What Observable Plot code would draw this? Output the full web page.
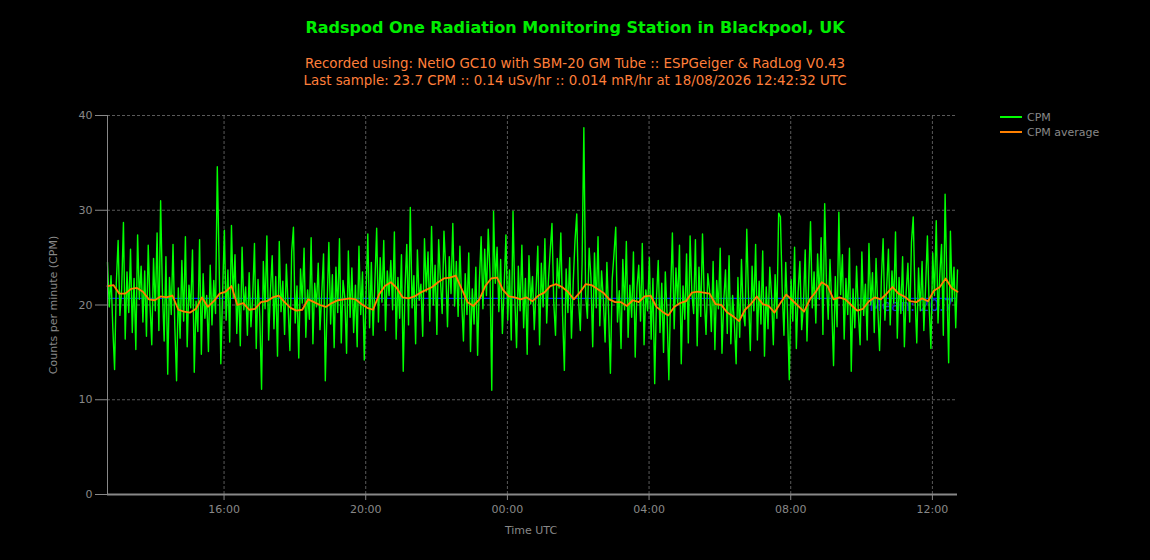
<!DOCTYPE html>
<html>
<head>
<meta charset="utf-8">
<script src="https://cdn.jsdelivr.net/npm/d3@7"></script>
<script src="https://cdn.jsdelivr.net/npm/@observablehq/plot@0.6"></script>
<style>
  html, body { margin: 0; padding: 0; background: #000; }
  #wrap { position: relative; width: 1150px; height: 560px; background: #000; overflow: hidden; font-family: "DejaVu Sans", sans-serif; }
  #title { position: absolute; left: 0; width: 1150px; top: 18px; text-align: center; color: #00ee00; font-weight: bold; font-size: 16px; }
  .sub { position: absolute; left: 0; width: 1150px; text-align: center; color: #ff7f3a; font-size: 13.4px; }
  #legend { position: absolute; left: 1000px; top: 110px; color: #888; font-size: 11px; }
  .li { position: relative; height: 15px; line-height: 15px; }
  .sw { position: absolute; left: 0; top: 6px; width: 22px; height: 2px; }
  .lt { position: absolute; left: 27px; top: 0; white-space: nowrap; }
  #chart { position: absolute; left: 0; top: 0; }
</style>
</head>
<body>
<div id="wrap">
  <div id="chart"></div>
  <div id="title">Radspod One Radiation Monitoring Station in Blackpool, UK</div>
  <div class="sub" style="top:56px">Recorded using: NetIO GC10 with SBM-20 GM Tube :: ESPGeiger &amp; RadLog V0.43</div>
  <div class="sub" style="top:73px">Last sample: 23.7 CPM :: 0.14 uSv/hr :: 0.014 mR/hr at 18/08/2026 12:42:32 UTC</div>
  <div id="legend">
    <div class="li"><div class="sw" style="background:#00ff00"></div><div class="lt">CPM</div></div>
    <div class="li"><div class="sw" style="background:#ff8000"></div><div class="lt">CPM average</div></div>
  </div>
</div>
<script>
// Time range of the chart
const startTime = "2026-08-17T12:42:32Z";
const endTime = "2026-08-18T12:42:32Z";
const cpmStepMinutes = 3;
const avgStepMinutes = 10;

// CPM samples (every 3 minutes)
const cpmValues = [
  24.5, 19.8, 23.1, 17.6, 13.2, 22.4, 26.8, 18.9, 21.7, 28.7, 16.4, 23.5, 19.2, 25.9, 17.1, 22.8, 15.3, 27.4, 20.6, 24.1,
  18.2, 23.6, 16.7, 26.3, 20.1, 15.8, 24.9, 19.4, 27.6, 17.3, 31.0, 21.5, 16.2, 25.1, 12.7, 22.9, 19.0, 26.4, 17.8, 12.0,
  21.8, 16.5, 24.7, 18.3, 27.2, 15.6, 22.1, 19.7, 25.8, 12.9, 20.4, 17.2, 26.9, 14.8, 23.3, 18.6, 21.0, 15.1, 24.2, 17.9,
  22.6, 19.1, 34.6, 24.8, 13.8, 21.3, 27.9, 18.4, 23.7, 16.1, 28.4, 20.7, 25.3, 17.0, 22.2, 15.7, 26.1, 19.5, 21.9, 16.8,
  23.4, 17.7, 20.9, 26.5, 15.4, 22.7, 18.8, 11.1, 24.6, 19.6, 27.3, 16.3, 21.4, 25.2, 17.5, 23.0, 14.6, 26.7, 19.3, 22.5,
  16.9, 24.3, 19.9, 15.2, 25.6, 28.2, 18.1, 22.0, 14.4, 23.8, 20.2, 26.0, 16.6, 21.6, 18.5, 27.1, 15.9, 22.3, 19.8, 24.4,
  17.4, 21.2, 25.4, 12.0, 20.0, 26.6, 18.0, 23.2, 15.5, 24.0, 19.2, 27.0, 16.0, 22.6, 20.8, 14.9, 25.7, 18.7, 23.9, 17.1,
  22.1, 15.6, 26.2, 19.0, 23.5, 14.2, 21.1, 27.5, 17.6, 24.5, 16.8, 22.4, 28.1, 18.2, 25.0, 20.3, 26.8, 17.3, 23.6, 21.0,
  24.7, 19.5, 27.7, 16.4, 22.9, 18.6, 25.3, 13.0, 21.8, 26.4, 17.9, 30.3, 19.7, 23.1, 15.9, 25.8, 20.5, 22.2, 16.7, 27.0,
  21.4, 25.6, 18.3, 28.3, 20.0, 24.2, 16.9, 26.9, 22.7, 19.1, 27.8, 23.9, 17.7, 25.1, 21.2, 28.6, 19.9, 24.6, 18.8, 26.2,
  20.4, 16.2, 23.3, 19.0, 25.5, 15.1, 21.7, 18.0, 24.0, 14.7, 22.5, 27.2, 19.6, 25.9, 21.0, 28.0, 23.4, 11.0, 29.9, 22.3,
  26.1, 19.3, 24.8, 17.0, 22.0, 27.4, 18.4, 23.7, 16.3, 29.9, 20.7, 15.5, 24.1, 19.4, 26.3, 17.6, 22.8, 14.8, 25.2, 20.1,
  23.0, 17.4, 21.5, 26.2, 15.8, 24.4, 19.8, 27.0, 18.1, 22.6, 25.7, 28.6, 20.3, 16.8, 24.9, 21.8, 27.6, 18.9, 13.1, 23.8,
  19.2, 25.0, 16.5, 22.4, 26.8, 29.6, 20.5, 17.3, 24.3, 38.7, 21.1, 18.6, 26.0, 22.9, 15.6, 25.5, 19.7, 27.2, 17.8, 23.6,
  20.6, 16.1, 24.5, 19.0, 12.8, 22.7, 25.3, 28.2, 18.2, 21.5, 15.4, 24.8, 19.5, 26.7, 16.6, 22.1, 18.7, 25.6, 14.5, 21.9,
  24.2, 18.3, 26.5, 15.8, 21.6, 19.4, 25.0, 16.4, 22.8, 11.7, 20.6, 24.7, 17.1, 22.3, 15.0, 23.5, 19.0, 12.1, 21.2, 27.6,
  17.5, 23.9, 20.2, 26.3, 13.8, 22.0, 18.5, 25.4, 16.0, 27.3, 21.3, 19.1, 26.9, 15.7, 24.0, 18.8, 27.5, 20.8, 16.9, 23.3,
  21.5, 17.2, 24.6, 15.3, 22.6, 19.6, 26.0, 14.9, 20.4, 23.7, 17.0, 25.2, 15.9, 21.0, 18.1, 13.8, 22.9, 16.6, 24.8, 19.3,
  17.8, 28.0, 20.7, 15.2, 24.1, 19.4, 26.4, 16.3, 22.5, 18.0, 25.7, 14.6, 21.9, 17.5, 24.0, 20.9, 15.8, 23.2, 18.6, 29.7,
  29.3, 21.6, 16.8, 24.5, 19.2, 12.1, 22.7, 18.3, 26.1, 15.4, 21.4, 24.6, 17.4, 20.0, 25.8, 16.2, 22.6, 28.8, 19.7, 23.5,
  18.1, 25.4, 20.6, 27.1, 16.9, 30.7, 22.3, 18.5, 24.8, 19.9, 13.6, 23.0, 17.7, 29.8, 21.1, 25.3, 16.4, 22.8, 19.0, 26.0,
  13.0, 21.7, 17.6, 24.1, 19.3, 15.8, 25.6, 18.9, 22.2, 16.3, 26.5, 20.0, 23.4, 17.1, 24.9, 19.6, 15.2, 22.7, 27.0, 18.4,
  21.8, 25.9, 17.9, 23.6, 20.2, 27.7, 16.5, 22.9, 19.1, 25.1, 15.6, 21.3, 24.4, 18.2, 26.6, 29.3, 20.9, 16.0, 23.9, 19.4,
  24.6, 17.3, 22.0, 27.3, 19.8, 15.4, 25.5, 21.0, 28.9, 18.1, 23.2, 26.4, 16.8, 31.7, 22.5, 13.9, 27.8, 20.4, 24.0, 17.6, 23.7
];

// CPM average (every 10 minutes)
const avgValues = [
  22.0, 22.1, 21.2, 21.2, 21.7, 21.8, 21.4, 20.6, 20.5, 20.9, 20.8, 21.0,
  19.5, 19.3, 19.2, 19.6, 20.8, 19.8, 20.4, 21.2, 21.4, 22.0, 20.0, 20.2,
  19.5, 19.6, 20.3, 20.4, 20.8, 21.0, 20.3, 19.7, 19.4, 19.5, 20.6, 20.3,
  20.0, 19.8, 20.2, 20.5, 20.6, 20.7, 20.6, 20.1, 19.7, 19.5, 21.1, 22.0,
  22.4, 21.8, 20.8, 20.7, 20.9, 21.3, 21.6, 21.9, 22.4, 22.8, 22.9, 23.1,
  21.7, 20.3, 19.9, 20.6, 22.0, 22.8, 22.9, 21.6, 20.9, 20.8, 20.6, 20.8,
  20.4, 21.0, 21.3, 22.0, 22.2, 21.9, 21.4, 20.6, 21.3, 22.2, 22.1, 21.7,
  21.3, 20.6, 20.3, 20.3, 19.9, 20.5, 20.3, 20.9, 21.0, 19.8, 19.3, 18.9,
  19.8, 20.2, 20.4, 21.3, 21.4, 21.3, 21.2, 20.1, 20.0, 19.2, 18.8, 18.3,
  19.5, 20.1, 20.9, 20.1, 19.9, 19.2, 20.2, 21.1, 20.5, 19.9, 19.3, 20.6,
  21.4, 22.4, 22.0, 20.6, 20.8, 20.6, 20.0, 19.4, 19.6, 20.4, 20.8, 20.6,
  21.2, 21.9, 21.2, 20.9, 20.4, 20.3, 20.7, 20.4, 21.5, 21.9, 22.8, 21.8,
  21.4
];

// Mean reference line
const meanValue = 20.7;
const meanLabel = "Mean: 20.7";

// Axis ticks
const yTicks = [0, 10, 20, 30, 40];
const xTickHours = 4;

const t0 = new Date(startTime);
const t1 = new Date(endTime);
const cpmData = cpmValues.map((v, i) => ({t: new Date(+t0 + i * cpmStepMinutes * 60000), v}));
const avgData = avgValues.map((v, i) => ({t: new Date(+t0 + i * avgStepMinutes * 60000), v}));
const xTicks = d3.utcHour.every(xTickHours).range(t0, t1);

const grid = "#5a5a5a";
const axisCol = "#888";

const chart = Plot.plot({
  width: 1150,
  height: 560,
  marginTop: 115,
  marginBottom: 66,
  marginLeft: 107,
  marginRight: 193,
  style: {background: "#000", color: axisCol, fontFamily: "DejaVu Sans, sans-serif", fontSize: "11px", overflow: "visible"},
  x: {type: "utc", domain: [t0, t1]},
  y: {domain: [0, 40]},
  marks: [
    Plot.ruleY(yTicks.filter(d => d > 0), {stroke: grid, strokeDasharray: "3,2", strokeWidth: 1}),
    Plot.ruleX(xTicks, {stroke: grid, strokeDasharray: "3,2", strokeWidth: 1, y1: 0, y2: 40}),
    Plot.ruleY([meanValue], {stroke: "#0022ff", strokeWidth: 1.2}),
    Plot.text([meanLabel], {x: t1, y: meanValue, text: d => d, textAnchor: "end", dx: -4, dy: 8, fill: "#1a33cc", fontSize: 15, fontFamily: "DejaVu Sans, sans-serif"}),
    Plot.line(cpmData, {x: "t", y: "v", stroke: "#00ff00", strokeWidth: 1.4}),
    Plot.line(avgData, {x: "t", y: "v", stroke: "#ff8000", strokeWidth: 1.8}),
    Plot.ruleX([t0], {stroke: axisCol, strokeWidth: 1, y1: 0, y2: 40}),
    Plot.axisY({ticks: yTicks, tickSize: 12, tickPadding: 3, stroke: axisCol, fill: axisCol, label: null, fontSize: 11}),
    Plot.axisX({ticks: xTicks, tickFormat: d3.utcFormat("%H:%M"), tickSize: 6, tickPadding: 5, stroke: axisCol, fill: axisCol, label: null, fontSize: 11}),
    Plot.ruleY([0], {stroke: axisCol, strokeWidth: 2})
  ]
});

document.getElementById("chart").appendChild(chart);

// axis titles
const svg = d3.select(chart);
svg.append("text")
  .attr("transform", "translate(57,305) rotate(-90)")
  .attr("text-anchor", "middle")
  .attr("fill", axisCol)
  .attr("font-size", 11)
  .attr("font-family", "DejaVu Sans, sans-serif")
  .text("Counts per minute (CPM)");
svg.append("text")
  .attr("x", 531)
  .attr("y", 534)
  .attr("text-anchor", "middle")
  .attr("fill", axisCol)
  .attr("font-size", 11)
  .attr("font-family", "DejaVu Sans, sans-serif")
  .text("Time UTC");
</script>
</body>
</html>
